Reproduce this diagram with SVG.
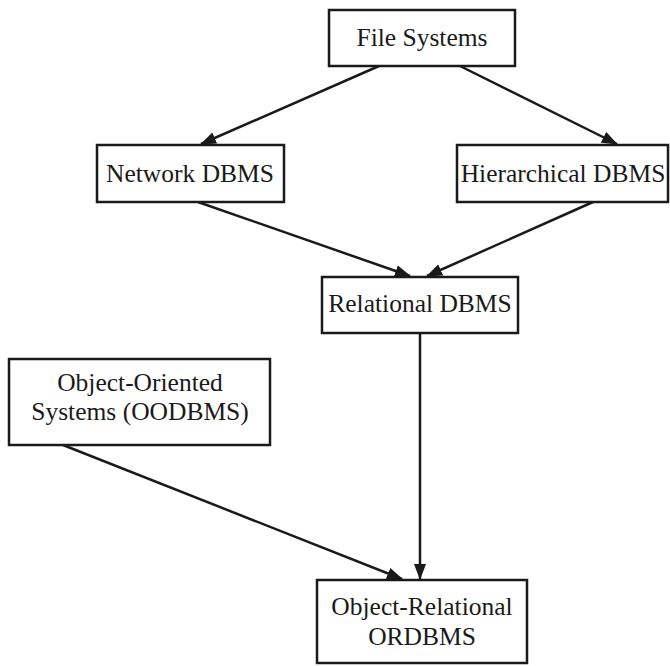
<svg xmlns="http://www.w3.org/2000/svg" width="670" height="666" viewBox="0 0 670 666">
<style>
.box{fill:#fff;stroke:#1a1a1a;stroke-width:2.5}
.lbl{font-family:"Liberation Serif","DejaVu Serif",serif;font-size:25.5px;fill:#1a1a1a;text-anchor:middle}
.conn{stroke:#1a1a1a;stroke-width:2.5;fill:none;marker-end:url(#ah)}
</style>
<defs>
<marker id="ah" markerUnits="userSpaceOnUse" markerWidth="16" markerHeight="12" viewBox="0 0 16 12" refX="15" refY="6" orient="auto">
<path d="M0,0 L16,6 L0,12 z" fill="#1a1a1a"/>
</marker>
</defs>
<rect width="670" height="666" fill="#fff"/>
<g id="connectors">
<line class="conn" x1="379" y1="66" x2="201" y2="144"/>
<line class="conn" x1="460" y1="66" x2="617" y2="144"/>
<line class="conn" x1="198" y1="202" x2="410" y2="276"/>
<line class="conn" x1="593" y1="202" x2="427" y2="276"/>
<line class="conn" x1="420" y1="333" x2="420" y2="579"/>
<line class="conn" x1="63" y1="445" x2="402" y2="579"/>
</g>
<g id="file-systems">
<rect class="box" x="329" y="10" width="186" height="56"/>
<text class="lbl" x="422" y="46">File Systems</text>
</g>
<g id="network-dbms">
<rect class="box" x="97" y="145" width="187" height="57"/>
<text class="lbl" x="190" y="182">Network DBMS</text>
</g>
<g id="hierarchical-dbms">
<rect class="box" x="457" y="145" width="211" height="57"/>
<text class="lbl" x="563" y="182">Hierarchical DBMS</text>
</g>
<g id="relational-dbms">
<rect class="box" x="322" y="277" width="196" height="56"/>
<text class="lbl" x="420" y="312">Relational DBMS</text>
</g>
<g id="oodbms">
<rect class="box" x="9" y="359" width="261" height="86"/>
<text class="lbl" x="140" y="391">Object-Oriented</text>
<text class="lbl" x="140" y="420">Systems (OODBMS)</text>
</g>
<g id="ordbms">
<rect class="box" x="317" y="580" width="210" height="83"/>
<text class="lbl" x="422" y="615">Object-Relational</text>
<text class="lbl" x="422" y="645">ORDBMS</text>
</g>
</svg>
